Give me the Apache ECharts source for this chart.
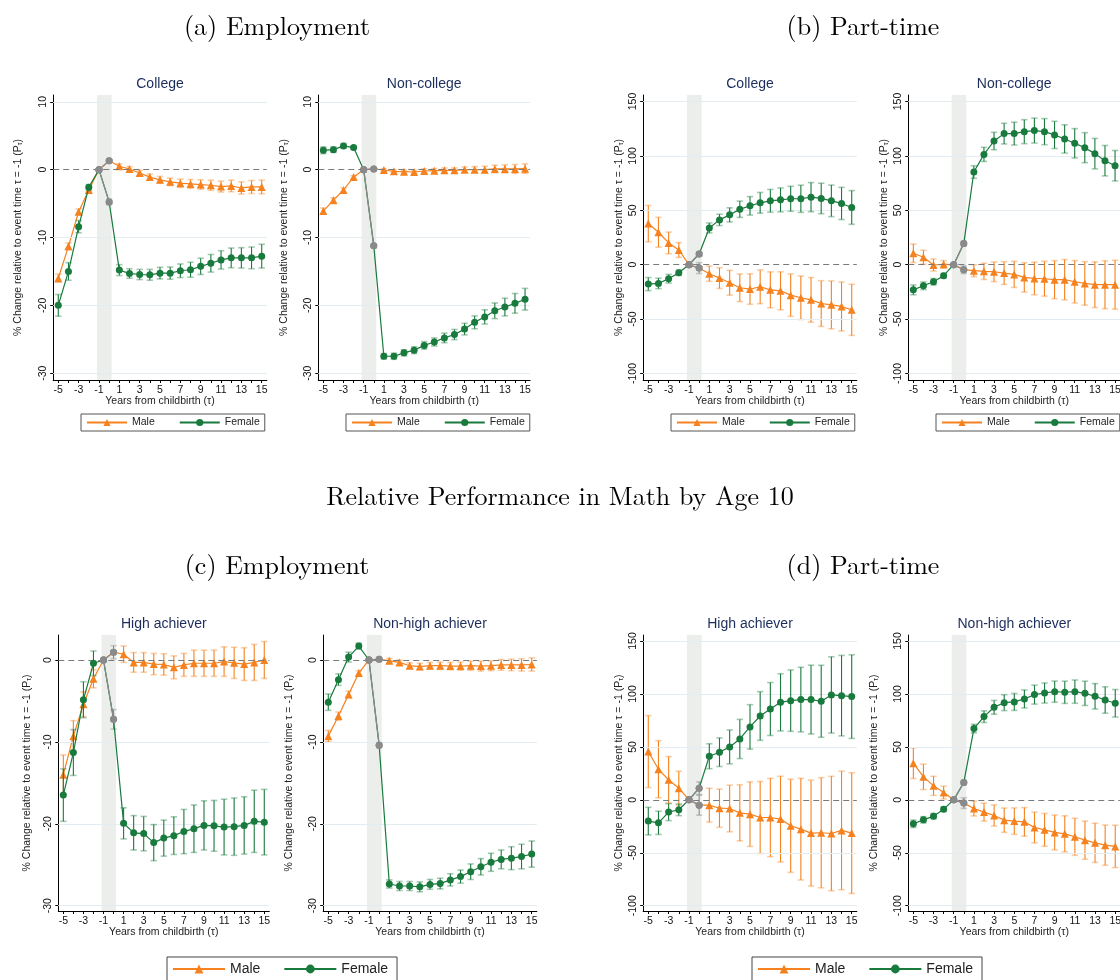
<!DOCTYPE html>
<html lang="en">
<head>
<meta charset="UTF-8" />
<title>Child penalty by math performance</title>
<style>
  html, body { margin: 0; padding: 0; background: #fff; }
  #main { width: 1120px; height: 980px; }
</style>
</head>
<body>
<div id="main"></div>
<script src="https://cdn.jsdelivr.net/npm/echarts@6/dist/echarts.min.js"></script>
<script>
// event time
var tau = [-5, -4, -3, -2, -1, 0, 1, 2, 3, 4, 5, 6, 7, 8, 9, 10, 11, 12, 13, 14, 15];
var oddTau = tau.filter(function (t) { return t % 2 !== 0; });

// (a) employment, college
var empColMale = [-16.0, -11.3, -6.2, -3.0, 0, 1.3, 0.5, 0.1, -0.5, -1.1, -1.5, -1.8, -2.0, -2.1, -2.2, -2.3, -2.5, -2.4, -2.7, -2.55, -2.55];
var empColMaleCi = [0.6, 0.5, 0.4, 0.3, 0, 0.2, 0.35, 0.35, 0.4, 0.45, 0.5, 0.55, 0.6, 0.65, 0.7, 0.75, 0.8, 0.85, 0.9, 0.95, 1.0];
var empColFem = [-20.0, -15.0, -8.4, -2.6, 0, -4.75, -14.8, -15.3, -15.45, -15.5, -15.25, -15.25, -14.9, -14.75, -14.25, -13.8, -13.3, -13.0, -13.0, -13.0, -12.75];
var empColFemCi = [1.6, 1.3, 0.9, 0.4, 0, 0.4, 0.8, 0.7, 0.75, 0.8, 0.85, 0.9, 1.0, 1.1, 1.2, 1.3, 1.35, 1.45, 1.5, 1.6, 1.75];
// (a) employment, non-college
var empNcMale = [-6.1, -4.5, -3.0, -1.1, 0, 0.1, -0.05, -0.25, -0.3, -0.35, -0.2, -0.15, -0.1, -0.1, 0, 0, 0, 0.1, 0.1, 0.1, 0.15];
var empNcMaleCi = [0.45, 0.35, 0.3, 0.2, 0, 0.15, 0.2, 0.2, 0.25, 0.25, 0.3, 0.3, 0.35, 0.35, 0.4, 0.45, 0.5, 0.55, 0.6, 0.65, 0.7];
var empNcFem = [2.85, 2.95, 3.5, 3.25, 0, -11.2, -27.5, -27.5, -27.0, -26.6, -25.9, -25.4, -24.8, -24.3, -23.5, -22.5, -21.7, -20.8, -20.25, -19.7, -19.1];
var empNcFemCi = [0.5, 0.4, 0.35, 0.2, 0, 0.2, 0.4, 0.45, 0.45, 0.5, 0.55, 0.6, 0.7, 0.75, 0.85, 0.95, 1.05, 1.15, 1.3, 1.45, 1.6];
// (b) part-time, college
var ptColMale = [37.8, 29.8, 20.0, 13.5, 0, -3.1, -8.3, -12.3, -16.6, -21.2, -22.4, -20.3, -23.1, -24.0, -28.0, -30.4, -32.3, -35.7, -36.9, -38.4, -41.5];
var ptColMaleCi = [16.7, 13.7, 10, 6.8, 0, 5, 7, 9.5, 11.4, 12.7, 14, 15.5, 16.5, 17.5, 19.5, 20, 20.5, 21, 22, 22.5, 23.5];
var ptColFem = [-17.8, -17.2, -12.9, -7.4, 0, 9.8, 33.8, 41.2, 45.8, 51.0, 54.1, 56.9, 58.7, 59.6, 60.6, 60.6, 62.1, 60.9, 58.7, 56.3, 52.6];
var ptColFemCi = [6, 4.8, 4, 2.5, 0, 2, 4.6, 5.2, 6.5, 7.5, 8.5, 9.5, 10.5, 11, 11.5, 12.5, 13.4, 14, 14.5, 14.8, 15.5];
// (b) part-time, non-college
var ptNcMale = [10.5, 6.8, -0.3, 0.3, 0, -4.6, -5.5, -6.1, -6.5, -7.7, -8.9, -11.7, -12.6, -12.9, -13.8, -13.8, -15.7, -17.2, -18.4, -18.4, -18.4];
var ptNcMaleCi = [8.5, 6.5, 5.5, 3.5, 0, 3.5, 5.5, 7.5, 9, 10.5, 12, 13.5, 15, 16, 17.5, 18.5, 19.5, 20, 21, 22, 22.5];
var ptNcFem = [-23.1, -19.4, -15.7, -10.1, 0, 19.4, 85.2, 101.4, 113.7, 120.5, 120.5, 122.3, 123.3, 122.3, 119.3, 115.6, 111.6, 107.6, 102.1, 95.6, 91.0];
var ptNcFemCi = [4.5, 3.5, 3, 2, 0, 2, 5.8, 6.5, 8, 9.5, 10.5, 11, 11.5, 12, 12.5, 13, 13.5, 13.8, 14, 14, 14];
// (c) employment, high achiever
var empHiMale = [-14.0, -9.3, -5.4, -2.3, 0, 0.95, 0.7, -0.3, -0.3, -0.5, -0.55, -0.9, -0.6, -0.4, -0.4, -0.4, -0.2, -0.35, -0.5, -0.3, 0];
var empHiMaleCi = [2.4, 1.9, 1.5, 1.1, 0, 0.8, 1.0, 1.2, 1.2, 1.3, 1.3, 1.4, 1.4, 1.6, 1.6, 1.6, 1.8, 1.9, 2.0, 2.2, 2.25];
var empHiFem = [-16.5, -11.3, -4.85, -0.4, 0, -7.25, -19.95, -21.1, -21.2, -22.3, -21.75, -21.45, -20.95, -20.6, -20.2, -20.25, -20.4, -20.35, -20.2, -19.7, -19.8];
var empHiFemCi = [3.2, 2.8, 2.2, 1.5, 0, 1.2, 1.9, 2.1, 2.1, 2.2, 2.2, 2.3, 2.7, 2.9, 3.0, 3.1, 3.4, 3.5, 3.5, 3.8, 4.0];
// (c) employment, non-high achiever
var empLoMale = [-9.3, -6.85, -4.2, -1.6, 0, 0.1, -0.1, -0.3, -0.7, -0.8, -0.7, -0.7, -0.75, -0.75, -0.7, -0.75, -0.7, -0.6, -0.6, -0.6, -0.55];
var empLoMaleCi = [0.7, 0.5, 0.4, 0.3, 0, 0.2, 0.3, 0.3, 0.35, 0.4, 0.4, 0.45, 0.45, 0.5, 0.55, 0.6, 0.6, 0.65, 0.7, 0.75, 0.8];
var empLoFem = [-5.15, -2.4, 0.35, 1.7, 0, -10.4, -27.35, -27.6, -27.6, -27.7, -27.4, -27.3, -26.85, -26.45, -25.85, -25.25, -24.7, -24.35, -24.2, -24.0, -23.7];
var empLoFemCi = [1.0, 0.7, 0.6, 0.35, 0, 0.3, 0.5, 0.55, 0.55, 0.6, 0.6, 0.65, 0.75, 0.8, 0.95, 1.0, 1.1, 1.15, 1.4, 1.5, 1.6];
// (d) part-time, high achiever
var ptHiMale = [45.6, 28.9, 18.9, 11.0, 0, -5.0, -5.0, -7.9, -8.2, -12.3, -13.5, -16.7, -16.7, -18.2, -24.5, -27.7, -31.4, -31.1, -31.8, -28.9, -31.4];
var ptHiMaleCi = [34, 27, 22, 16, 0, 9.5, 16, 18, 22, 26.5, 30.5, 34, 37, 40.5, 44, 48, 50, 52, 54, 56, 57];
var ptHiFem = [-20.1, -21.7, -11.6, -9.4, 0, 11.0, 41.2, 45.0, 50.0, 57.5, 68.9, 79.2, 85.8, 92.1, 93.7, 94.7, 94.7, 93.1, 99.1, 98.4, 97.5];
var ptHiFemCi = [13, 11, 8, 5.5, 0, 6, 11.8, 13.5, 16, 18.5, 21, 23, 25, 27, 29, 30.5, 32.5, 34, 36, 38, 39.5];
// (d) part-time, non-high achiever
var ptLoMale = [34.6, 21.7, 13.2, 6.9, 0, -3.1, -8.2, -11.6, -14.8, -19.2, -20.1, -20.8, -26.1, -28.3, -30.8, -32.1, -34.9, -38.1, -40.6, -42.8, -44.0];
var ptLoMaleCi = [14.5, 12, 9, 6, 0, 5, 7, 8.5, 10, 11.5, 12.5, 13.5, 14.5, 15.5, 16.5, 17, 17.5, 18, 18.5, 19, 20];
var ptLoFem = [-22.6, -18.9, -15.4, -8.8, 0, 16.4, 67.3, 78.6, 87.4, 91.8, 92.5, 95.3, 99.4, 100.9, 102.2, 101.6, 102.2, 100.6, 97.8, 94.3, 91.2];
var ptLoFemCi = [3.5, 3, 2.5, 2, 0, 2, 4, 5.5, 6.5, 7.5, 8, 8.5, 9, 9.5, 10, 10.5, 11, 11.5, 12, 12.5, 13];

var empTicksTop = [-30, -20, -10, 0, 10];
var empTicksBot = [-30, -20, -10, 0];
var ptTicks = [-100, -50, 0, 50, 100, 150];

var ORANGE = "#f5821f";
var GREEN = "#187a3c";
var GRAY = "#8a8a8a";
var SANS = "Liberation Sans, Arial, sans-serif";
var SERIF = "Latin Modern Roman, CMU Serif, Liberation Serif, serif";

var panels = [
  { title: "College", male: empColMale, maleCi: empColMaleCi, fem: empColFem, femCi: empColFemCi,
    left: 53.2, width: 213.6, top: 95, height: 285, min: -31, max: 11, ticks: empTicksTop, nameGap: 30 },
  { title: "Non-college", male: empNcMale, maleCi: empNcMaleCi, fem: empNcFem, femCi: empNcFemCi,
    left: 318.3, width: 211.8, top: 95, height: 285, min: -31, max: 11, ticks: empTicksTop, nameGap: 28.5 },
  { title: "College", male: ptColMale, maleCi: ptColMaleCi, fem: ptColFem, femCi: ptColFemCi,
    left: 643.2, width: 213.6, top: 95, height: 285, min: -106, max: 156, ticks: ptTicks, nameGap: 18.5 },
  { title: "Non-college", male: ptNcMale, maleCi: ptNcMaleCi, fem: ptNcFem, femCi: ptNcFemCi,
    left: 908.3, width: 211.8, top: 95, height: 285, min: -106, max: 156, ticks: ptTicks, nameGap: 18.5 },
  { title: "High achiever", male: empHiMale, maleCi: empHiMaleCi, fem: empHiFem, femCi: empHiFemCi,
    left: 58.3, width: 211, top: 635, height: 276, min: -30.65, max: 3.05, ticks: empTicksBot, nameGap: 26 },
  { title: "Non-high achiever", male: empLoMale, maleCi: empLoMaleCi, fem: empLoFem, femCi: empLoFemCi,
    left: 323.2, width: 213.6, top: 635, height: 276, min: -30.65, max: 3.05, ticks: empTicksBot, nameGap: 28.5 },
  { title: "High achiever", male: ptHiMale, maleCi: ptHiMaleCi, fem: ptHiFem, femCi: ptHiFemCi,
    left: 643.2, width: 213.6, top: 635, height: 276, min: -105, max: 155.7, ticks: ptTicks, nameGap: 18.5 },
  { title: "Non-high achiever", male: ptLoMale, maleCi: ptLoMaleCi, fem: ptLoFem, femCi: ptLoFemCi,
    left: 908.3, width: 212, top: 635, height: 276, min: -105, max: 155.7, ticks: ptTicks, nameGap: 29 }
];

var yName = "{a|% Change relative to event time τ = -1 (P}{s|τ}{a|)}";

function linePoints(vals) {
  return tau.map(function (t, k) {
    if (t === -1 || t === 0) {
      return { value: [t, vals[k]], symbol: "circle", symbolSize: 7, itemStyle: { color: GRAY } };
    }
    return [t, vals[k]];
  });
}

function errSeries(vals, cis, color, idx, z) {
  return {
    type: "custom", name: "ci", xAxisIndex: idx, yAxisIndex: idx, z: z, silent: true,
    encode: { x: 0, y: [1, 2] },
    data: tau.map(function (t, k) { return [t, vals[k] - cis[k], vals[k] + cis[k]]; })
      .filter(function (d) { return d[0] !== -1; }),
    renderItem: function (params, api) {
      var x = api.value(0);
      var lo = api.coord([x, api.value(1)]);
      var hi = api.coord([x, api.value(2)]);
      var c = x === 0 ? GRAY : color;
      var cw = 3.2;
      return {
        type: "group",
        children: [
          { type: "line", shape: { x1: lo[0], y1: lo[1], x2: hi[0], y2: hi[1] }, style: { stroke: c, lineWidth: 1.1 } },
          { type: "line", shape: { x1: lo[0] - cw, y1: lo[1], x2: lo[0] + cw, y2: lo[1] }, style: { stroke: c, lineWidth: 1.6, opacity: 0.4 } },
          { type: "line", shape: { x1: hi[0] - cw, y1: hi[1], x2: hi[0] + cw, y2: hi[1] }, style: { stroke: c, lineWidth: 1.6, opacity: 0.4 } }
        ]
      };
    }
  };
}

var grids = [], xAxes = [], yAxes = [], series = [];
var titles = [
  { text: "(a) Employment", left: 277, top: 27 },
  { text: "(b) Part-time", left: 863, top: 27 },
  { text: "Relative Performance in Math by Age 10", left: 560, top: 497 },
  { text: "(c) Employment", left: 277, top: 566 },
  { text: "(d) Part-time", left: 863, top: 566 }
].map(function (t) {
  t.textAlign = "center";
  t.textVerticalAlign = "middle";
  t.padding = 0;
  t.textStyle = { fontFamily: SERIF, fontSize: 26, fontWeight: "normal", color: "#000" };
  return t;
});

panels.forEach(function (p, i) {
  titles.push({
    text: p.title, left: p.left + p.width / 2, top: p.top - 11,
    textAlign: "center", textVerticalAlign: "middle", padding: 0,
    textStyle: { fontFamily: SANS, fontSize: 14, fontWeight: "normal", color: "#1c2d5c" }
  });
  grids.push({ left: p.left, top: p.top, width: p.width, height: p.height, containLabel: false, outerBoundsMode: "none" });
  xAxes.push({
    type: "value", gridIndex: i, min: -5.5, max: 15.5,
    name: "Years from childbirth (τ)", nameLocation: "middle", nameGap: 16, nameMoveOverlap: false,
    nameTextStyle: { fontFamily: SANS, fontSize: 10.5, color: "#222" },
    axisLine: { show: true, onZero: false, lineStyle: { color: "#000", width: 1 } },
    axisTick: { show: true, customValues: tau, length: 3, lineStyle: { color: "#000" } },
    axisLabel: { customValues: oddTau, fontFamily: SANS, fontSize: 10.5, color: "#111", margin: 5 },
    splitLine: { show: false }
  });
  yAxes.push({
    type: "value", gridIndex: i, min: p.min, max: p.max,
    name: yName, nameLocation: "middle", nameGap: p.nameGap, nameRotate: 90, nameMoveOverlap: false,
    nameTextStyle: {
      fontFamily: SANS, fontSize: 10.5, color: "#222",
      rich: {
        a: { fontFamily: SANS, fontSize: 10.5, color: "#222" },
        s: { fontFamily: SANS, fontSize: 7, color: "#222", verticalAlign: "bottom" }
      }
    },
    axisLine: { show: true, onZero: false, lineStyle: { color: "#000", width: 1 } },
    axisTick: { show: true, customValues: p.ticks, length: 3, lineStyle: { color: "#000" } },
    axisLabel: { customValues: p.ticks, rotate: 90, fontFamily: SANS, fontSize: 10.5, color: "#111", margin: 5 },
    splitLine: { show: false }
  });

  // shaded window around birth
  series.push({
    type: "line", name: "band", xAxisIndex: i, yAxisIndex: i, data: [], z: 1, silent: true,
    markArea: { silent: true, itemStyle: { color: "#eceeec" }, data: [[{ xAxis: -1.2 }, { xAxis: 0.25 }]] }
  });
  // horizontal grid lines and the dashed zero line
  series.push({
    type: "line", name: "grid", xAxisIndex: i, yAxisIndex: i, data: [], z: 2, silent: true,
    markLine: {
      silent: true, symbol: "none", label: { show: false },
      data: p.ticks.map(function (v) {
        return {
          yAxis: v,
          lineStyle: v === 0 ? { color: "#7a7a7a", type: [6, 4], width: 1 } : { color: "#e2ecf1", type: "solid", width: 1 }
        };
      })
    }
  });

  series.push(errSeries(p.male, p.maleCi, ORANGE, i, 3));
  series.push(errSeries(p.fem, p.femCi, GREEN, i, 5));
  series.push({
    name: "Male", type: "line", xAxisIndex: i, yAxisIndex: i, z: 4,
    data: linePoints(p.male), symbol: "triangle", symbolSize: 8, showAllSymbol: true,
    itemStyle: { color: ORANGE }, lineStyle: { color: ORANGE, width: 1.2 }
  });
  series.push({
    name: "Female", type: "line", xAxisIndex: i, yAxisIndex: i, z: 6,
    data: linePoints(p.fem), symbol: "circle", symbolSize: 7, showAllSymbol: true,
    itemStyle: { color: GREEN }, lineStyle: { color: GREEN, width: 1.2 }
  });
  // grey link between tau = -1 and tau = 0
  [p.male, p.fem].forEach(function (vals) {
    series.push({
      name: "link", type: "line", xAxisIndex: i, yAxisIndex: i, z: 7,
      data: [[-1, vals[4]], [0, vals[5]]], symbol: "circle", symbolSize: 7,
      itemStyle: { color: GRAY }, lineStyle: { color: GRAY, width: 1.2 }
    });
  });
});

function smallLegend(left) {
  return {
    data: ["Male", "Female"], left: left, top: 414, orient: "horizontal",
    itemWidth: 40, itemHeight: 9, itemGap: 24, padding: [3, 5],
    borderColor: "#555", borderWidth: 1, selectedMode: false,
    textStyle: { fontFamily: SANS, fontSize: 10.5, color: "#222" }
  };
}
function bigLegend(left) {
  return {
    data: ["Male", "Female"], left: left, top: 957, orient: "horizontal",
    itemWidth: 52, itemHeight: 11, itemGap: 23, padding: [5, 9, 5, 5],
    borderColor: "#444", borderWidth: 1, selectedMode: false,
    lineStyle: { width: 2 },
    textStyle: { fontFamily: SANS, fontSize: 14, color: "#222" }
  };
}

var chart = echarts.init(document.getElementById("main"));
chart.setOption({
  animation: false,
  backgroundColor: "#fff",
  title: titles,
  legend: [smallLegend(81), smallLegend(346), smallLegend(671), smallLegend(936), bigLegend(167), bigLegend(752)],
  grid: grids,
  xAxis: xAxes,
  yAxis: yAxes,
  series: series
});
</script>
</body>
</html>
